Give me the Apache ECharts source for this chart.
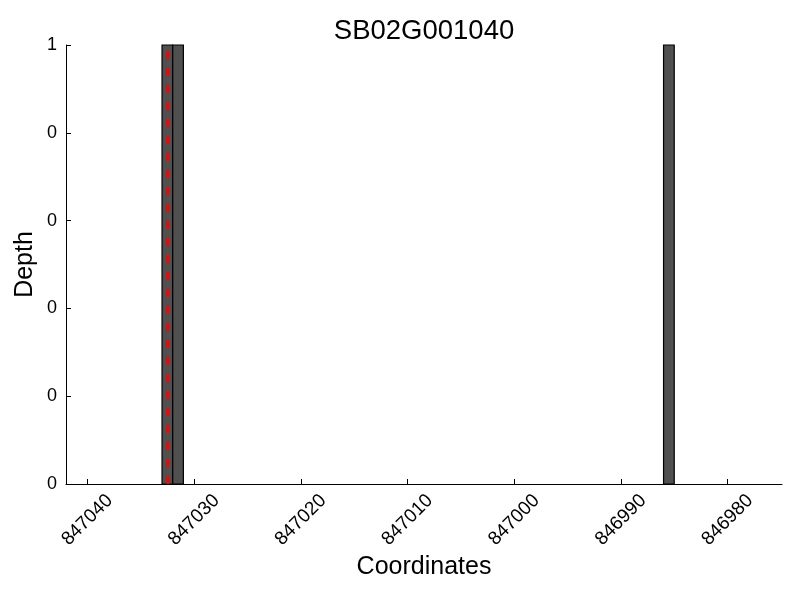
<!DOCTYPE html>
<html>
<head>
<meta charset="utf-8">
<script src="https://cdn.jsdelivr.net/npm/echarts@6/dist/echarts.min.js"></script>
<style>html,body{margin:0;padding:0;background:#fff}#c{width:800px;height:600px}</style>
</head>
<body>
<div id="c"></div>
<script>
// Data
var title = "SB02G001040";
var barStarts = [847032, 847031, 846985];   // each bar spans [start, start+1]
var barDepths = [1, 1, 1];
var markerPos = 847032.45;                  // red dashed line position
var xTicks = [847040, 847030, 847020, 847010, 847000, 846990, 846980];
var yTicks = [0, 0.2, 0.4, 0.6, 0.8, 1];
var xMin = 846974.9, xMax = 847042;

var font = "Liberation Sans";
var chart = echarts.init(document.getElementById('c'));
var barData = barStarts.map(function (s, i) { return [s, s + 1, barDepths[i]]; });

chart.setOption({
  animation: false,
  backgroundColor: '#fff',
  title: {
    text: title, left: 419, top: 12, textAlign: 'center',
    textStyle: { fontFamily: font, fontSize: 27.5, fontWeight: 'normal', color: '#000' }
  },
  grid: { left: 66, right: 18, top: 45, bottom: 116, containLabel: false, outerBoundsMode: 'none' },
  xAxis: {
    type: 'value', inverse: true, min: xMin, max: xMax,
    name: 'Coordinates', nameLocation: 'middle', nameGap: 71, nameMoveOverlap: false,
    nameTextStyle: { fontFamily: font, fontSize: 25, color: '#000' },
    axisLine: { show: true, lineStyle: { color: '#000', width: 1 } },
    axisTick: { show: true, inside: true, length: 5, lineStyle: { color: '#000' }, customValues: xTicks },
    axisLabel: { rotate: 45, align: 'center', verticalAlign: 'middle', fontFamily: font, fontSize: 19, color: '#000', margin: 36, customValues: xTicks,
      formatter: function (v) { return String(Math.round(v)); } },
    splitLine: { show: false }
  },
  yAxis: {
    type: 'value', min: 0, max: 1, interval: 0.2,
    name: 'Depth', nameLocation: 'middle', nameGap: 28, nameMoveOverlap: false,
    nameTextStyle: { fontFamily: font, fontSize: 25, color: '#000' },
    axisLine: { show: true, lineStyle: { color: '#000', width: 1 } },
    axisTick: { show: true, inside: true, length: 5, lineStyle: { color: '#000' } },
    axisLabel: { fontFamily: font, fontSize: 18, color: '#000', margin: 9,
      formatter: function (v) { return String(Math.floor(v + 1e-9)); } },
    splitLine: { show: false }
  },
  series: [
    {
      type: 'custom',
      data: barData,
      encode: { x: [0, 1], y: 2 },
      renderItem: function (params, api) {
        var p0 = api.coord([api.value(0), api.value(2)]);
        var p1 = api.coord([api.value(1), 0]);
        var x = Math.min(p0[0], p1[0]);
        var w = Math.abs(p1[0] - p0[0]);
        return {
          type: 'rect',
          shape: { x: x, y: p0[1], width: w, height: p1[1] - p0[1] },
          style: { fill: '#505050', stroke: '#000', lineWidth: 1.2 }
        };
      },
      z: 2
    },
    {
      type: 'line',
      data: [[markerPos, 0], [markerPos, 1]],
      symbol: 'none',
      lineStyle: { color: '#ff0000', width: 3, type: [8, 9] },
      z: 3
    }
  ]
});
</script>
</body>
</html>
